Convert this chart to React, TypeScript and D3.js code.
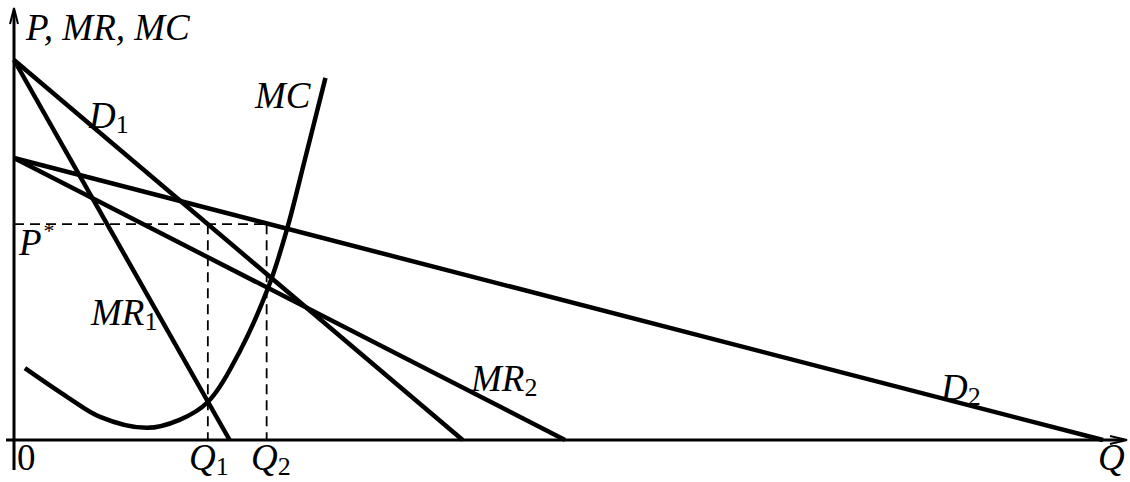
import React from "react";
import * as d3 from "d3";

// Quantity and price in model units
const qMax = 100;
const pMax = 100;

// Demand and marginal revenue lines: [Q, P] end points
const demand1: [number, number][] = [[0, 100], [41.2, 0]];
const marginalRevenue1: [number, number][] = [[0, 100], [19.8, 0]];
const demand2: [number, number][] = [[0, 74.2], [100, 0]];
const marginalRevenue2: [number, number][] = [[0, 74.2], [50.6, 0]];

// Marginal cost curve, read point by point
const marginalCost: [number, number][] = [
  [1.0, 18.9], [4.9, 11.3], [7.9, 6.1], [12.2, 3.2], [15.2, 5.3],
  [17.8, 10.0], [20.8, 23.7], [23.5, 41.3], [25.1, 55.8], [26.7, 73.7], [28.6, 95.3],
];

// Equilibrium markers
const q1 = 17.8;
const q2 = 23.2;
const pStar = 56.8;

const W = 1130;
const H = 482;
const x = d3.scaleLinear().domain([0, qMax]).range([14, 1103]);
const y = d3.scaleLinear().domain([0, pMax]).range([440, 60]);

const line = d3.line<[number, number]>().x((d) => x(d[0])).y((d) => y(d[1]));
const curve = d3
  .line<[number, number]>()
  .x((d) => x(d[0]))
  .y((d) => y(d[1]))
  .curve(d3.curveCatmullRom.alpha(0.5));

const font = "'Liberation Serif', 'Times New Roman', serif";

function Label({ x: lx, y: ly, main, sub, sup }: { x: number; y: number; main: string; sub?: string; sup?: string }) {
  return (
    <text x={lx} y={ly} fontFamily={font} fontSize={37} fontStyle="italic" fill="#000">
      {main}
      {sub && (
        <tspan fontStyle="normal" fontSize={26} dy={5}>
          {sub}
        </tspan>
      )}
      {sup && (
        <tspan fontStyle="normal" fontSize={22} dy={-17} dx={2}>
          {sup}
        </tspan>
      )}
    </text>
  );
}

export default function App() {
  const x0 = x(0);
  const yAxis0 = y(0);
  return (
    <svg
      width={W}
      height={H}
      viewBox={`0 0 ${W} ${H}`}
      style={{ position: "absolute", left: 0, top: 0, background: "#fff" }}
    >
      <rect width={W} height={H} fill="#fff" />
      {/* axes */}
      <line x1={x0} y1={470} x2={x0} y2={12} stroke="#000" strokeWidth={3} />
      <path d={`M${x0 - 4},${24} L${x0},${8} L${x0 + 4},${24}`} fill="none" stroke="#000" strokeWidth={2} />
      <line x1={6} y1={yAxis0} x2={1124} y2={yAxis0} stroke="#000" strokeWidth={3} />
      <path d={`M${1110},${yAxis0 - 4} L${1127},${yAxis0} L${1110},${yAxis0 + 4}`} fill="none" stroke="#000" strokeWidth={2} />

      {/* dashed guides */}
      <g stroke="#000" strokeWidth={1.8} strokeDasharray="10,6" fill="none">
        <line x1={x0} y1={y(pStar)} x2={x(q2)} y2={y(pStar)} />
        <line x1={x(q1)} y1={y(pStar)} x2={x(q1)} y2={yAxis0} />
        <line x1={x(q2)} y1={y(pStar)} x2={x(q2)} y2={yAxis0} />
      </g>

      {/* curves */}
      <g stroke="#000" strokeWidth={4.5} fill="none" strokeLinecap="butt">
        <path d={line(demand1) ?? ""} />
        <path d={line(marginalRevenue1) ?? ""} />
        <path d={line(demand2) ?? ""} />
        <path d={line(marginalRevenue2) ?? ""} />
        <path d={curve(marginalCost) ?? ""} />
      </g>

      {/* labels */}
      <Label x={26} y={40} main="P, MR, MC" />
      <Label x={255} y={108} main="MC" />
      <Label x={89} y={128} main="D" sub="1" />
      <Label x={91} y={325} main="MR" sub="1" />
      <Label x={19} y={255} main="P" sup="*" />
      <text x={17} y={470} fontFamily={font} fontSize={37} fill="#000">0</text>
      <Label x={189} y={470} main="Q" sub="1" />
      <Label x={251} y={470} main="Q" sub="2" />
      <Label x={471} y={391} main="MR" sub="2" />
      <Label x={941} y={400} main="D" sub="2" />
      <Label x={1098} y={470} main="Q" />
    </svg>
  );
}
